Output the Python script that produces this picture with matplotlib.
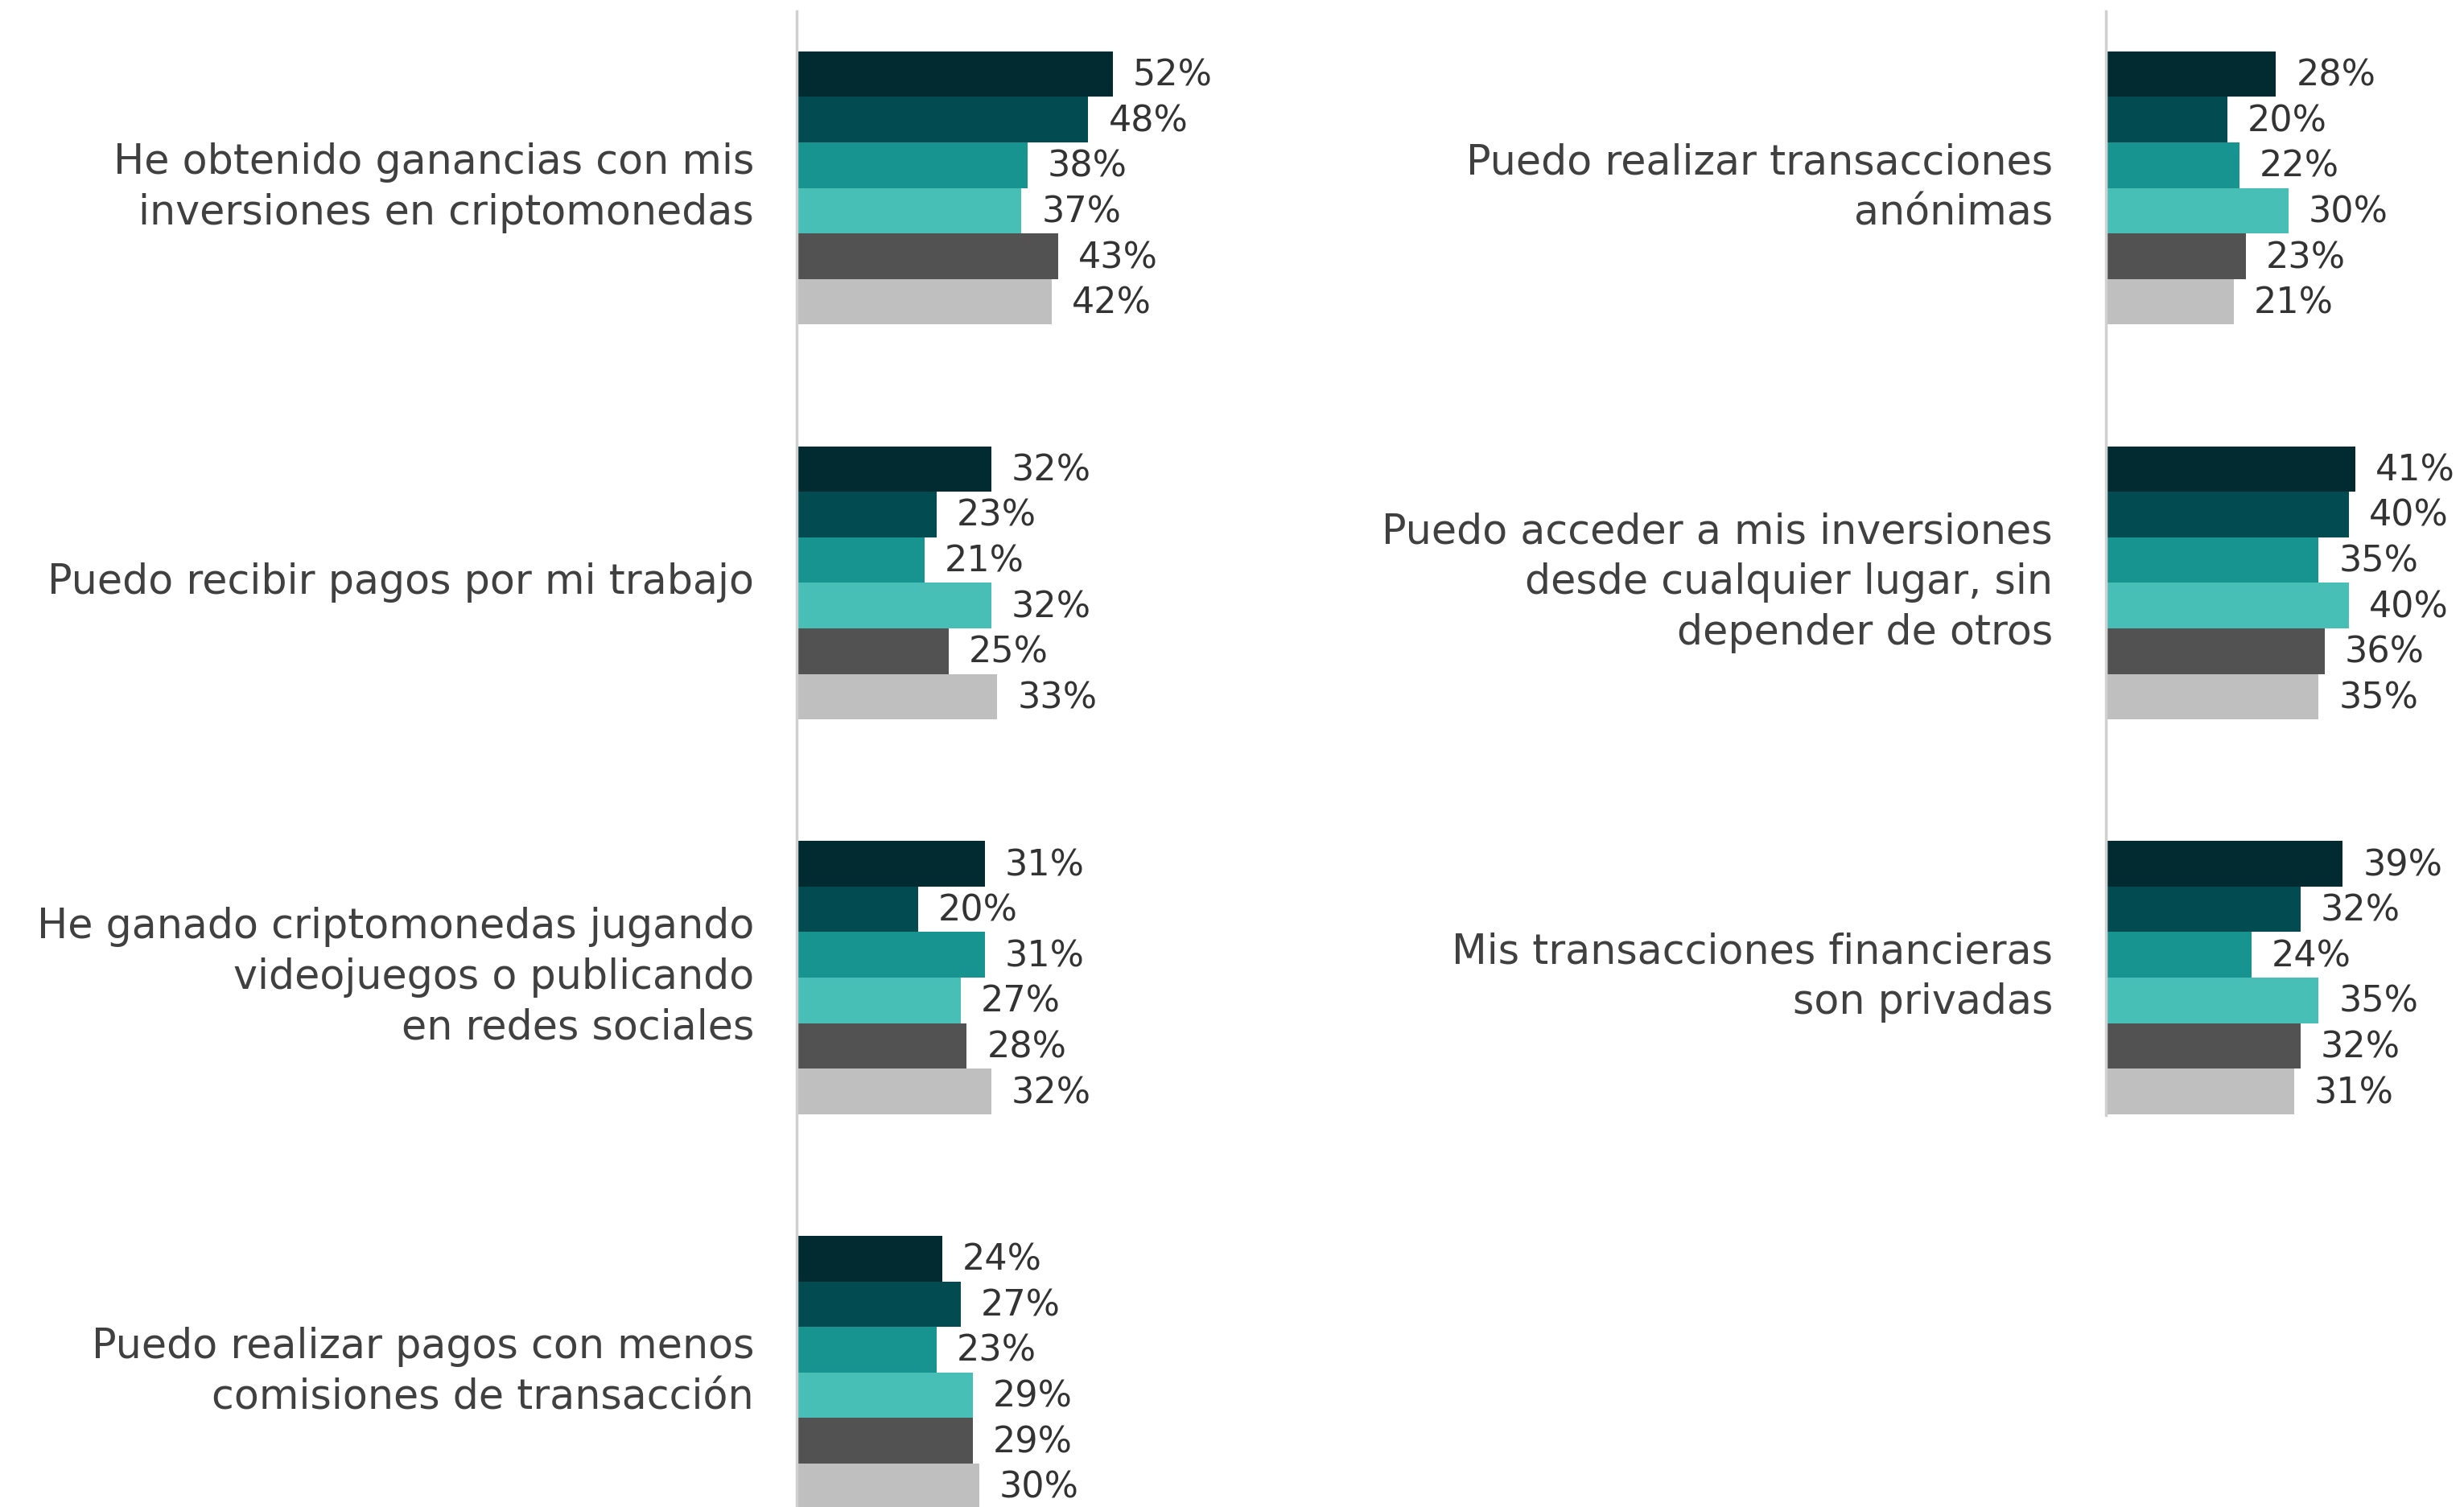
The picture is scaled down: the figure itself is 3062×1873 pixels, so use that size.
import matplotlib
matplotlib.use("Agg")
import matplotlib.pyplot as plt

# series colours (6 series per statement)
colors = ["#022b31", "#024b50", "#17948f", "#47bfb7", "#525252", "#bfbfbf"]

left_labels = [
    "He obtenido ganancias con mis\ninversiones en criptomonedas",
    "Puedo recibir pagos por mi trabajo",
    "He ganado criptomonedas jugando\nvideojuegos o publicando\nen redes sociales",
    "Puedo realizar pagos con menos\ncomisiones de transacción",
]
left_values = [
    [52, 48, 38, 37, 43, 42],
    [32, 23, 21, 32, 25, 33],
    [31, 20, 31, 27, 28, 32],
    [24, 27, 23, 29, 29, 30],
]

right_labels = [
    "Puedo realizar transacciones\nanónimas",
    "Puedo acceder a mis inversiones\ndesde cualquier lugar, sin\ndepender de otros",
    "Mis transacciones financieras\nson privadas",
]
right_values = [
    [28, 20, 22, 30, 23, 21],
    [41, 40, 35, 40, 36, 35],
    [39, 32, 24, 35, 32, 31],
]

W, H = 3062, 1873
DPI = 100
BAR_PX = 56.6        # pixel height of one bar
GROUP_STEP = 8.67    # distance between groups, in bar units
PX_PER_PCT = 7.55
TOP_PX = 14
Y_TOP = -1.38

fig = plt.figure(figsize=(W / DPI, H / DPI), dpi=DPI)
fig.patch.set_facecolor("white")


def panel(x_px, bottom_px, labels, values, label_gap):
    width_px = 60 * PX_PER_PCT
    ax = fig.add_axes([x_px / W, 1 - bottom_px / H, width_px / W, (bottom_px - TOP_PX) / H])
    y_bottom = Y_TOP + (bottom_px - TOP_PX) / BAR_PX
    for g, (lab, vals) in enumerate(zip(labels, values)):
        base = g * GROUP_STEP
        for i, v in enumerate(vals):
            y = base + i
            ax.barh(y, v, height=1.0, color=colors[i], linewidth=0)
            ax.annotate(f"{v}%", xy=(v, y), xytext=(25, -2), textcoords="offset pixels",
                        ha="left", va="center", fontsize=32, color="#333333")
        ax.annotate(lab, xy=(0, base + 2.5), xycoords=("axes fraction", "data"),
                    xytext=(-label_gap, 0), textcoords="offset pixels", ha="right", va="center",
                    fontsize=36.5, color="#404040", linespacing=1.33, multialignment="right")
    ax.set_xlim(0, 60)
    ax.set_ylim(y_bottom, Y_TOP)
    for s in ["top", "right", "bottom"]:
        ax.spines[s].set_visible(False)
    ax.spines["left"].set_color("#d0d0d0")
    ax.spines["left"].set_linewidth(2.5)
    ax.set_xticks([])
    ax.set_yticks([])
    ax.patch.set_alpha(0)
    return ax


panel(990, H, left_labels, left_values, 53)
panel(2617, 1386, right_labels, right_values, 66)

fig.savefig("out.png", dpi=DPI)
